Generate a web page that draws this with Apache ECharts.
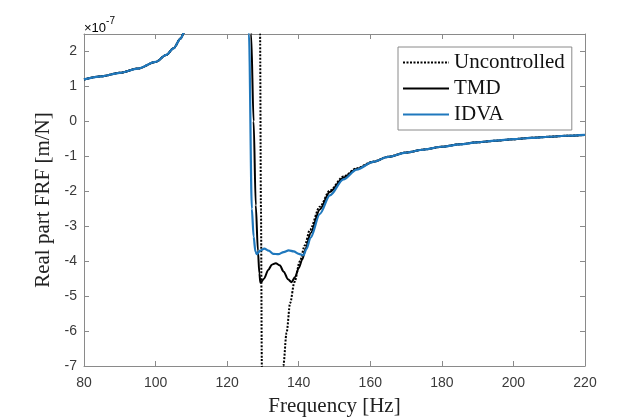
<!DOCTYPE html>
<html>
<head>
<meta charset="utf-8">
<script src="https://cdn.jsdelivr.net/npm/echarts@6/dist/echarts.min.js"></script>
<style>
  html, body { margin: 0; padding: 0; background: #fff; }
  #frf { width: 639px; height: 417px; }
</style>
</head>
<body>
<div id="frf"></div>
<script>
/* real part of FRF, values in 1e-7 m/N */
var xTicks = [80, 100, 120, 140, 160, 180, 200, 220];
var yTicks = [-7, -6, -5, -4, -3, -2, -1, 0, 1, 2];

// low-frequency branch, same for all three curves
var leftFreq = [80, 85, 90, 95, 100, 103, 105, 107, 108, 110];
var leftVal  = [1.20, 1.29, 1.39, 1.51, 1.70, 1.90, 2.09, 2.37, 2.55, 3.1];

// high-frequency tail, same for all three curves
var tailFreq = [165, 170, 175, 180, 185, 190, 195, 200, 205, 210, 215, 220];
var tailVal  = [-1.015, -0.892, -0.806, -0.726, -0.658, -0.600, -0.553, -0.510, -0.472, -0.440, -0.412, -0.388];

var uncFreq = [128.7, 129.2, 129.45, 129.7, 129.9, 134.9, 135.7, 136.6, 137.6, 138.8, 140.35, 141.7, 143.1, 145.9, 148.7, 152.5, 156.2, 160.8];
var uncVal  = [15, 2.5, -2.5, -7, -12, -12, -7, -6.05, -5.2, -4.6, -4.0, -3.55, -3.11, -2.44, -1.98, -1.58, -1.34, -1.15];

var tmdFreq = [125.9, 126.7, 127.4, 128.0, 128.6, 129.0, 129.3, 130.3, 131.5, 132.5, 133.6, 134.7, 135.8, 137, 138, 139, 140, 141, 142, 143.3, 145.9, 148.7, 152.5, 156.2, 160.8];
var tmdVal  = [15, 2.5, 0, -2.4, -3.7, -4.35, -4.62, -4.5, -4.25, -4.1, -4.06, -4.12, -4.3, -4.52, -4.6, -4.45, -4.2, -3.95, -3.62, -3.2, -2.52, -2.02, -1.61, -1.36, -1.16];

var idvaFreq = [125.3, 126.1, 126.9, 127.4, 127.9, 128.3, 129.2, 130.4, 131.6, 132.9, 134.3, 135.8, 137.2, 138.6, 140, 141.3, 142.2, 143.3, 145.9, 148.7, 152.5, 156.2, 160.8];
var idvaVal  = [15, 2.5, -2.5, -3.3, -3.72, -3.8, -3.7, -3.64, -3.7, -3.79, -3.8, -3.74, -3.69, -3.72, -3.79, -3.83, -3.65, -3.33, -2.65, -2.12, -1.66, -1.38, -1.16];

function pairs(f, v) {
  var out = [];
  for (var i = 0; i < f.length; i++) out.push([f[i], v[i]]);
  return out;
}
function curve(mid, midV) {
  return pairs(leftFreq, leftVal).concat(pairs(mid, midV), pairs(tailFreq, tailVal));
}

var axisGray = '#8a8a8a';
var tickFont = { color: '#3a3a3a', fontSize: 14, fontFamily: 'Liberation Sans, Arial, sans-serif' };
var nameFont = { color: '#222', fontSize: 21, fontFamily: 'Liberation Serif, Times New Roman, serif' };

function boxAxis(pos, isX) {
  return {
    type: 'value',
    position: pos,
    min: isX ? xTicks[0] : yTicks[0],
    max: isX ? xTicks[xTicks.length - 1] : 2.5,
    interval: isX ? 20 : 1,
    axisLine: { show: true, onZero: false, lineStyle: { color: axisGray, width: 1 } },
    axisTick: { show: true, inside: true, length: 5, lineStyle: { color: axisGray } },
    axisLabel: { show: false },
    splitLine: { show: false }
  };
}

var chart = echarts.init(document.getElementById('frf'));
chart.setOption({
  animation: false,
  backgroundColor: '#fff',
  grid: { left: 84, right: 54, top: 34, bottom: 51, outerBoundsMode: 'none' },
  xAxis: [
    {
      type: 'value', position: 'bottom',
      min: 80, max: 220, interval: 20,
      name: 'Frequency [Hz]', nameLocation: 'middle', nameGap: 30,
      nameTextStyle: nameFont,
      axisLine: { show: true, onZero: false, lineStyle: { color: axisGray, width: 1 } },
      axisTick: { show: true, inside: true, length: 5, lineStyle: { color: axisGray } },
      axisLabel: Object.assign({ margin: 10 }, tickFont),
      splitLine: { show: false }
    },
    boxAxis('top', true)
  ],
  yAxis: [
    {
      type: 'value', position: 'left',
      min: -7, max: 2.5, interval: 1,
      name: 'Real part FRF [m/N]', nameLocation: 'middle', nameGap: 19,
      nameTextStyle: nameFont,
      axisLine: { show: true, onZero: false, lineStyle: { color: axisGray, width: 1 } },
      axisTick: { show: true, inside: true, length: 5, lineStyle: { color: axisGray } },
      axisLabel: Object.assign({ margin: 7, showMaxLabel: false }, tickFont),
      splitLine: { show: false }
    },
    boxAxis('right', false)
  ],
  legend: {
    orient: 'vertical',
    left: 398, top: 47,
    padding: [5, 7, 5, 4],
    itemGap: 5,
    itemWidth: 46, itemHeight: 14,
    borderColor: '#8a8a8a', borderWidth: 1,
    backgroundColor: '#fff',
    itemStyle: { opacity: 0 },
    textStyle: { color: '#111', fontSize: 21, lineHeight: 20, fontFamily: 'Liberation Serif, Times New Roman, serif' },
    data: ['Uncontrolled', 'TMD', 'IDVA']
  },
  graphic: [{
    type: 'text', left: 84, top: 16,
    style: {
      text: '{a|\u00d710}{b|-7}',
      rich: {
        a: { fontSize: 13, color: '#444', fontFamily: 'Liberation Sans, Arial, sans-serif', padding: [6, 0, 0, 0] },
        b: { fontSize: 10, color: '#444', fontFamily: 'Liberation Sans, Arial, sans-serif', verticalAlign: 'top' }
      }
    }
  }],
  series: [
    {
      name: 'Uncontrolled', type: 'line', symbol: 'none',
      smooth: 0.3, smoothMonotone: 'x',
      lineStyle: { color: '#000', width: 2, type: [2, 1.5] },
      itemStyle: { color: '#000' },
      data: curve(uncFreq, uncVal)
    },
    {
      name: 'TMD', type: 'line', symbol: 'none',
      smooth: 0.3, smoothMonotone: 'x',
      lineStyle: { color: '#000', width: 2 },
      itemStyle: { color: '#000' },
      data: curve(tmdFreq, tmdVal)
    },
    {
      name: 'IDVA', type: 'line', symbol: 'none',
      smooth: 0.3, smoothMonotone: 'x',
      lineStyle: { color: '#1f78bd', width: 2.2 },
      itemStyle: { color: '#1f78bd' },
      data: curve(idvaFreq, idvaVal)
    }
  ]
});
</script>
</body>
</html>
